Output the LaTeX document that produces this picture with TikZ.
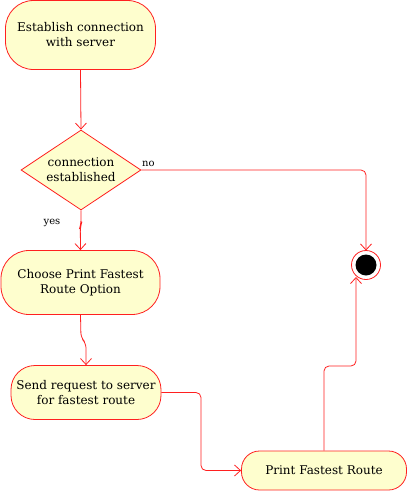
\documentclass[tikz,border=0pt]{standalone}
\usepackage{fontspec}
\setmainfont{DejaVu Serif}
\usetikzlibrary{arrows.meta,shapes.geometric}
\definecolor{actfill}{HTML}{FEFECE}
\definecolor{actline}{HTML}{FF2020}
\tikzset{
  act/.style={draw=actline, fill=actfill, line width=0.8pt, rounded corners=28pt,
    align=center, font=\fontsize{12}{15}\selectfont, inner sep=0pt},
  dec/.style={draw=actline, fill=actfill, line width=0.8pt, diamond, aspect=1.5,
    minimum width=120pt, minimum height=80pt, inner sep=0pt, align=center,
    font=\fontsize{12}{15}\selectfont},
  flow/.style={draw=actline, line width=0.8pt, rounded corners=5pt,
    -{Straight Barb[length=6pt,width=11pt,line width=0.8pt]}},
  lbl/.style={font=\fontsize{10}{12}\selectfont, inner sep=0pt}
}
\begin{document}
\begin{tikzpicture}[x=1pt,y=-1pt]
\useasboundingbox (0,0) rectangle (407,491);
\node[act, minimum width=150pt, minimum height=69pt] (a1) at (80.5,35) {Establish connection\\with server};
\node[dec] (d) at (81,170) {connection\\established};
\node[act, minimum width=159pt, minimum height=64pt] (a2) at (80.5,282.5) {Choose Print Fastest\\Route Option};
\node[act, minimum width=150pt, minimum height=54pt, rounded corners=24pt] (a3) at (86,392.5) {Send request to server\\for fastest route};
\node[act, minimum width=165pt, minimum height=39pt, rounded corners=18pt] (a4) at (324,470.5) {Print Fastest Route};
\node[circle, draw=actline, fill=white, line width=0.8pt, minimum size=29pt, inner sep=0pt] (end) at (366,265) {};
\node[circle, fill=black, minimum size=21pt, inner sep=0pt] (endin) at (end.center) {};
\coordinate (endb) at (356,277);
\coordinate (endt) at (366,250.5);

\draw[flow] (a1.south) -- (d.north);
\draw[flow] (d.south) -- ++(0,14) -- ++(-0.7,2) -- (a2.north);
\draw[flow] (d.east) -| (endt);
\draw[flow] (a2.south) -- (81,338) -- (86,343) -- (a3.north);
\draw[flow] (a3.east) -| (201,470.5) -- (a4.west);
\draw[flow] (a4.north) |- (356,366) -- (endb);

\node[lbl, anchor=south west] (no) at (142,167) {no};
\node[lbl] (yes) at (52,223) {yes};
\end{tikzpicture}
\end{document}
